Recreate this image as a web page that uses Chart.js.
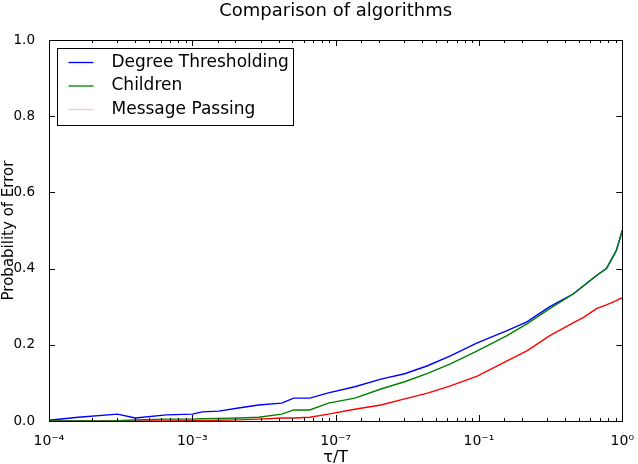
<!DOCTYPE html>
<html>
  <head>
    <title>Comparison of algorithms</title>
    <script src="https://cdn.jsdelivr.net/npm/chart.js"></script>
    <style>
      html, body { margin: 0; padding: 0; background: #fff; }
      #wrap { width: 638px; height: 464px; }
    </style>
  </head>
  <body>
    <div id="wrap"><canvas id="errChart" width="638" height="464"></canvas></div>

    <script>
      // tau/T sample positions (log axis) and the three error curves
      const tau = [1e-4, 1.6e-4, 3e-4, 4e-4, 6.6e-4, 1e-3, 1.17e-3, 1.53e-3, 2.1e-3, 2.9e-3,
                   4.2e-3, 5.1e-3, 6.6e-3, 8.9e-3, 0.0136, 0.0207, 0.0303, 0.0438, 0.0632, 0.0973,
                   0.157, 0.216, 0.312, 0.457, 0.537, 0.661, 0.775, 0.908, 1];
      const degreeThresholding = [0.002, 0.010, 0.018, 0.008, 0.016, 0.018, 0.024, 0.026, 0.034, 0.042,
                                  0.047, 0.060, 0.060, 0.074, 0.090, 0.110, 0.124, 0.145, 0.171, 0.205,
                                  0.237, 0.260, 0.300, 0.334, 0.355, 0.382, 0.400, 0.447, 0.500];
      const children = [0, 0, 0.001, 0.003, 0.005, 0.005, 0.006, 0.007, 0.008, 0.010,
                        0.018, 0.029, 0.029, 0.047, 0.060, 0.084, 0.103, 0.125, 0.150, 0.184,
                        0.224, 0.255, 0.295, 0.334, 0.355, 0.382, 0.400, 0.447, 0.500];
      const messagePassing = [0, 0, 0, 0, 0, 0.001, 0.001, 0.002, 0.003, 0.005,
                              0.008, 0.008, 0.010, 0.018, 0.031, 0.042, 0.058, 0.073, 0.092, 0.118,
                              0.158, 0.184, 0.224, 0.258, 0.272, 0.295, 0.305, 0.316, 0.324];

      const seriesLabels = ['Degree Thresholding', 'Children', 'Message Passing'];
      const decadeLabels = ['10\u207B\u2074', '10\u207B\u00B3', '10\u207B\u2077', '10\u207B\u00B9', '10\u2070'];
      const yTicks = [0, 0.2, 0.4, 0.6, 0.8, 1.0];

      const lineColors = ['#0000ff', '#008000', '#ff0000'];
      const legendColors = ['#0000ff', '#008000', '#ffc0c0'];

      function toPoints(ys) {
        return tau.map((t, i) => ({ x: t, y: ys[i] }));
      }

      function isDecade(v) {
        const e = Math.log10(v);
        return Math.abs(e - Math.round(e)) < 1e-9;
      }

      Chart.defaults.font.family = 'DejaVu Sans';
      Chart.defaults.color = '#000';

      // frame, inward tick marks, legend box and title, matplotlib style
      const decorations = {
        id: 'decorations',
        afterDraw(chart) {
          const { ctx, chartArea: a, scales } = chart;
          ctx.save();
          ctx.strokeStyle = '#000';
          ctx.lineWidth = 1;

          // tick marks, pointing inside, on all four sides
          ctx.beginPath();
          scales.x.ticks.forEach(t => {
            const px = Math.round(scales.x.getPixelForValue(t.value)) + 0.5;
            const len = isDecade(t.value) ? 6 : 3;
            ctx.moveTo(px, a.bottom); ctx.lineTo(px, a.bottom - len);
            ctx.moveTo(px, a.top); ctx.lineTo(px, a.top + len);
          });
          yTicks.forEach(v => {
            const py = Math.round(scales.y.getPixelForValue(v)) + 0.5;
            ctx.moveTo(a.left, py); ctx.lineTo(a.left + 6, py);
            ctx.moveTo(a.right, py); ctx.lineTo(a.right - 6, py);
          });
          ctx.stroke();

          ctx.strokeRect(Math.round(a.left) + 0.5, Math.round(a.top) + 0.5,
                         Math.round(a.right - a.left), Math.round(a.bottom - a.top));

          // legend
          const bx = a.left + 8.5, by = a.top + 8.5, bw = 236, bh = 77;
          ctx.fillStyle = '#fff';
          ctx.fillRect(bx, by, bw, bh);
          ctx.strokeRect(bx, by, bw, bh);
          ctx.font = '17px "DejaVu Sans"';
          ctx.textBaseline = 'middle';
          ctx.textAlign = 'left';
          seriesLabels.forEach((lab, i) => {
            const ry = by + 14 + i * 23.5;
            ctx.strokeStyle = legendColors[i];
            ctx.lineWidth = 1.3;
            ctx.beginPath();
            ctx.moveTo(bx + 11, ry); ctx.lineTo(bx + 36, ry);
            ctx.stroke();
            ctx.fillStyle = '#000';
            ctx.fillText(lab, bx + 54, ry);
          });

          // title, centred over the plot area
          ctx.font = '18px "DejaVu Sans"';
          ctx.textAlign = 'center';
          ctx.fillText('Comparison of algorithms', (a.left + a.right) / 2, 11);
          ctx.restore();
        }
      };

      const ctx = document.getElementById('errChart').getContext('2d');
      const chart = new Chart(ctx, {
        type: 'line',
        data: {
          datasets: [
            { label: seriesLabels[0], data: toPoints(degreeThresholding), borderColor: lineColors[0], order: 1 },
            { label: seriesLabels[1], data: toPoints(children), borderColor: lineColors[1], order: 0 },
            { label: seriesLabels[2], data: toPoints(messagePassing), borderColor: lineColors[2], order: 2 }
          ]
        },
        options: {
          responsive: false,
          animation: false,
          layout: { padding: { top: 40, right: 12, left: 0, bottom: 0 } },
          elements: {
            line: { borderWidth: 1.4, tension: 0, fill: false },
            point: { radius: 0 }
          },
          plugins: {
            legend: { display: false },
            tooltip: { enabled: false }
          },
          scales: {
            x: {
              type: 'logarithmic',
              min: 1e-4,
              max: 1,
              afterFit: s => { s.height = 43; },
              grid: { display: false },
              border: { display: false },
              ticks: {
                autoSkip: false,
                maxRotation: 0,
                padding: 4,
                font: { size: 14 },
                callback: v => isDecade(v) ? decadeLabels[Math.round(Math.log10(v)) + 4] : ''
              },
              title: {
                display: true,
                text: '\u03C4/T',
                font: { size: 16, lineHeight: 0.75 },
                padding: 0
              }
            },
            y: {
              min: 0,
              max: 1,
              afterFit: s => { s.width = 49; },
              grid: { display: false },
              border: { display: false },
              ticks: {
                stepSize: 0.2,
                padding: 6,
                font: { size: 13.5 },
                callback: v => v.toFixed(1)
              },
              title: {
                display: true,
                text: 'Probability of Error',
                font: { size: 15, lineHeight: 1 },
                padding: { top: 2, bottom: 0 }
              }
            }
          }
        },
        plugins: [decorations]
      });
    </script>
  </body>
</html>
